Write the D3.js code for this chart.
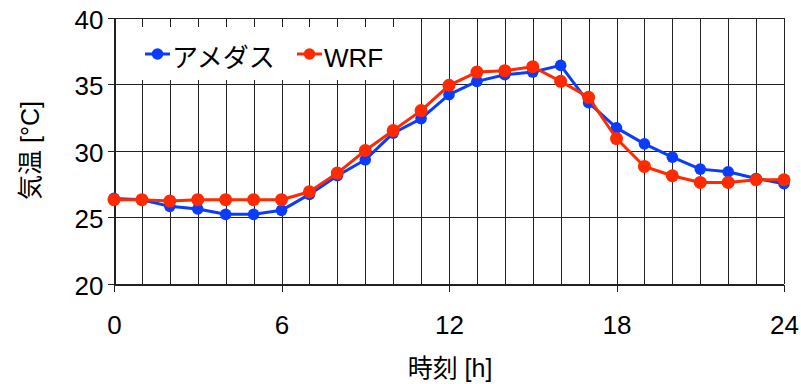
<!DOCTYPE html>
<html>
<head>
<meta charset="utf-8">
<script src="https://cdn.jsdelivr.net/npm/d3@7"></script>
<style>
  html, body { margin: 0; padding: 0; background: #fff; }
  svg { display: block; }
  text { font-family: "Liberation Sans", Arial, "Noto Sans CJK JP", sans-serif; fill: #000; }
</style>
</head>
<body>
<svg id="chart" width="801" height="384"></svg>
<script>
// Hourly temperature: observed (AMeDAS) vs. WRF simulation
const hours = d3.range(0, 25);
const amedas = [26.4, 26.3, 25.8, 25.6, 25.2, 25.2, 25.5, 26.7, 28.1, 29.3, 31.3, 32.4, 34.2,
                35.2, 35.7, 35.9, 36.4, 33.6, 31.7, 30.5, 29.5, 28.6, 28.4, 27.9, 27.5];
const wrf    = [26.3, 26.3, 26.2, 26.3, 26.3, 26.3, 26.3, 26.9, 28.3, 30.0, 31.5, 33.0, 34.9,
                35.9, 36.0, 36.3, 35.2, 34.0, 30.9, 28.8, 28.1, 27.6, 27.6, 27.8, 27.8];
const seriesNames = ["アメダス", "WRF"];
const seriesColors = ["#0a3cff", "#ff2a00"];
const xTicks = [0, 6, 12, 18, 24];
const yTicks = [20, 25, 30, 35, 40];
const xTitle = "時刻 [h]";
const yTitle = "気温 [°C]";

const svg = d3.select("#chart");
const x = d3.scaleLinear().domain([0, 24]).range([114, 784]);
const y = d3.scaleLinear().domain([20, 40]).range([283.5, 17.5]);

// grid
const grid = svg.append("g").attr("stroke", "#222").attr("stroke-width", 1).attr("shape-rendering", "crispEdges");
grid.selectAll("line.v").data(hours).join("line")
  .attr("x1", d => Math.round(x(d)) + 0.5).attr("x2", d => Math.round(x(d)) + 0.5)
  .attr("y1", y(40)).attr("y2", y(20));
grid.selectAll("line.h").data(yTicks).join("line")
  .attr("y1", d => Math.round(y(d)) + 0.5).attr("y2", d => Math.round(y(d)) + 0.5)
  .attr("x1", x(0)).attr("x2", x(24));

// legend background interrupts the grid
svg.append("rect").attr("x", 115.5).attr("y", 27).attr("width", 305).attr("height", 53).attr("fill", "#fff");

// axes
const yAxis = d3.axisLeft(y).tickValues(yTicks).tickSize(7).tickPadding(4);
const gy = svg.append("g").attr("transform", `translate(${Math.round(x(0)) + 0.5},0)`).call(yAxis);
gy.selectAll("text").attr("font-size", 26).attr("dy", "0.42em");

const xAxis = d3.axisBottom(x).tickValues(xTicks).tickSize(7).tickPadding(24);
const gx = svg.append("g").attr("transform", `translate(0,${Math.round(y(20)) + 0.5})`).call(xAxis);
gx.selectAll("text").attr("font-size", 26);

[gx, gy].forEach(g => {
  g.selectAll("path, line").attr("stroke", "#222").attr("shape-rendering", "crispEdges");
  g.selectAll("text").attr("font-family", "'Liberation Sans', Arial, sans-serif").attr("fill", "#000");
});

// titles
svg.append("text").attr("x", 450).attr("y", 377).attr("text-anchor", "middle")
  .attr("font-size", 25).text(xTitle);
svg.append("text").attr("transform", `translate(39,${(y(20) + y(40)) / 2}) rotate(-90)`)
  .attr("text-anchor", "middle").attr("font-size", 25).text(yTitle);

// series
const line = d3.line().x((d, i) => x(hours[i])).y(d => y(d));
const data = [amedas, wrf];
const radii = [5.8, 6.5];
data.forEach((vals, k) => {
  const g = svg.append("g");
  g.append("path").datum(vals).attr("d", line).attr("fill", "none")
    .attr("stroke", seriesColors[k]).attr("stroke-width", 3).attr("stroke-linejoin", "round");
  g.selectAll("circle").data(vals).join("circle")
    .attr("cx", (d, i) => x(hours[i])).attr("cy", d => y(d)).attr("r", radii[k])
    .attr("fill", seriesColors[k]);
});

// legend
const legX = [145, 297];
seriesNames.forEach((name, k) => {
  const g = svg.append("g").attr("transform", `translate(${legX[k]},54)`);
  g.append("line").attr("x1", 0).attr("x2", 25).attr("stroke", seriesColors[k]).attr("stroke-width", 3);
  g.append("circle").attr("cx", 12.5).attr("r", radii[0]).attr("fill", seriesColors[k]);
  g.append("text").attr("x", 27).attr("y", 12.5).attr("font-size", 26).text(name);
});
</script>
</body>
</html>
